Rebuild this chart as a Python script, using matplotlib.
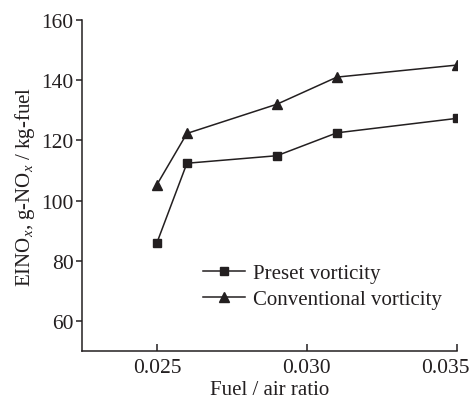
import matplotlib
matplotlib.use('Agg')
import matplotlib.pyplot as plt
import matplotlib.transforms as mtransforms

plt.rcParams['font.family'] = 'Liberation Serif'
plt.rcParams['mathtext.fontset'] = 'custom'
plt.rcParams['mathtext.rm'] = 'Liberation Serif'
plt.rcParams['mathtext.it'] = 'Liberation Serif:italic'

# data
fuel_air = [0.025, 0.026, 0.029, 0.031, 0.035]
preset = [86, 112.4, 114.9, 122.5, 127.3]
conventional = [105.3, 122.3, 132.0, 141.0, 145.0]

col = '#231f20'

fig = plt.figure(figsize=(4.71, 4.02), dpi=100)
ax = fig.add_axes([0.174, 0.124, 0.796, 0.824])

ax.plot(fuel_air, preset, '-s', color=col, lw=1.1, ms=5.5, label='Preset vorticity')
ax.plot(fuel_air, conventional, '-^', color=col, lw=1.1, ms=7, label='Conventional vorticity')

ax.set_xlim(0.0225, 0.035)
ax.set_ylim(50, 160)
ax.set_xticks([0.025, 0.030, 0.035])
ax.set_xticklabels(['0.025', '0.030', '0.035'])
ax.set_yticks([60, 80, 100, 120, 140, 160])

for s in ['top', 'right']:
    ax.spines[s].set_visible(False)
for s in ['left', 'bottom']:
    ax.spines[s].set_linewidth(1.1)
    ax.spines[s].set_color(col)

ax.tick_params(axis='x', direction='in', length=5, width=1.1, labelsize=15.5, pad=5, colors=col)
ax.tick_params(axis='y', direction='out', length=4, width=1.1, labelsize=15.5, pad=2, colors=col)

# last x label sits pulled in from the right edge
lbl = ax.get_xticklabels()[-1]
lbl.set_transform(lbl.get_transform() + mtransforms.ScaledTranslation(-0.11, 0, fig.dpi_scale_trans))

ax.set_xlabel('Fuel / air ratio', fontsize=15, color=col, labelpad=2)
ax.set_ylabel('EINO$_x$, g-NO$_x$ / kg-fuel', fontsize=15, color=col, labelpad=3)

ax.legend(loc='center left', bbox_to_anchor=(0.323, 0.196), frameon=False,
          fontsize=15, handlelength=2.0, handletextpad=0.4, borderpad=0,
          borderaxespad=0, labelspacing=0.3, labelcolor=col)

fig.savefig('out.png', dpi=100)
